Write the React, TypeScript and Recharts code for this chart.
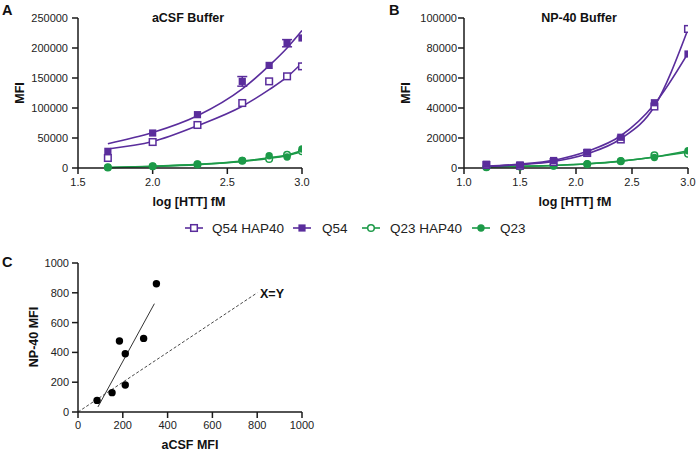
import React from "react";
import {
  ComposedChart,
  Line,
  Scatter,
  ErrorBar,
  XAxis,
  YAxis,
} from "recharts";

const FONT = '"Liberation Sans", Arial, sans-serif';
const PURPLE = "#5a2d9c";
const GREEN = "#1c9a48";
const INK = "#1a1a1a";

// Panel A - aCSF buffer
const aX = [1.7, 2.0, 2.3, 2.6, 2.78, 2.9, 3.0];
const aQ54Hap40 = [16700, 43300, 71700, 108300, 144400, 152800, 169400];
const aQ54 = [27800, 58300, 88900, 144400, 171000, 208000, 216700];
const aQ54Err = [0, 0, 0, 8000, 0, 6000, 0];
const aQ23Hap40 = [1000, 3000, 6000, 12000, 15000, 22000, 27800];
const aQ23 = [1000, 3000, 6500, 12500, 20500, 18300, 31700];
const aQ54Hap40Fit = [31700, 44000, 70500, 103000, 130500, 151700, 175000];
const aQ54Fit = [40500, 59000, 87000, 131700, 170500, 200000, 229000];
const aQ23Hap40Fit = [600, 2600, 5600, 10800, 16000, 20500, 27500];
const aQ23Fit = [800, 2900, 6000, 11500, 17000, 21500, 29000];
const aXTicks = [1.5, 2.0, 2.5, 3.0];
const aYTicks = [0, 50000, 100000, 150000, 200000, 250000];

// Panel B - NP-40 buffer
const bX = [1.2, 1.5, 1.8, 2.1, 2.4, 2.7, 3.0];
const bQ54Hap40 = [2000, 1500, 4000, 10000, 19000, 41000, 92700];
const bQ54 = [2500, 2000, 5000, 10500, 20500, 43500, 76000];
const bQ23Hap40 = [500, 1000, 1500, 2500, 4500, 8500, 9500];
const bQ23 = [500, 1000, 1500, 2800, 4800, 7000, 11500];
const bQ54Hap40Fit = [1000, 2200, 4300, 9500, 19500, 41000, 92500];
const bQ54Fit = [1200, 2600, 5100, 11100, 21500, 42500, 76500];
const bQ23Hap40Fit = [700, 1100, 1700, 2700, 4500, 7300, 10500];
const bQ23Fit = [700, 1100, 1700, 2800, 4600, 7300, 11500];
const bXTicks = [1.0, 1.5, 2.0, 2.5, 3.0];
const bYTicks = [0, 20000, 40000, 60000, 80000, 100000];

// Panel C - aCSF vs NP-40
const cAcsf = [85, 152, 185, 211, 211, 293, 350];
const cNp40 = [78, 130, 477, 391, 181, 494, 861];
const cFitX = [89, 341];
const cFitY = [34, 727];
const cIdentity = [0, 800];
const cTicks = [0, 200, 400, 600, 800, 1000];

const pts = (xs: number[], ys: number[], errs?: number[]) =>
  xs.map((x, i) => ({ x, y: ys[i], err: errs ? errs[i] : 0 }));

const tickStyle = { fontSize: 11, fill: "#222", fontFamily: FONT };

const openSquare = (color: string) => (p: any) => (
  <rect x={p.cx - 3.3} y={p.cy - 3.3} width={6.6} height={6.6} fill="#fff" stroke={color} strokeWidth={1.5} />
);
const filledSquare = (color: string) => (p: any) => (
  <rect x={p.cx - 3.6} y={p.cy - 3.6} width={7.2} height={7.2} fill={color} />
);
const openCircle = (color: string) => (p: any) => (
  <circle cx={p.cx} cy={p.cy} r={3.3} fill="#fff" stroke={color} strokeWidth={1.5} />
);
const filledCircle = (color: string) => (p: any) => (
  <circle cx={p.cx} cy={p.cy} r={3.7} fill={color} />
);

interface CurveProps {
  xs: number[];
  q54Hap40: number[];
  q54: number[];
  q54Err?: number[];
  q23Hap40: number[];
  q23: number[];
  fits: number[][];
  xDomain: [number, number];
  xTicks: number[];
  yDomain: [number, number];
  yTicks: number[];
  width: number;
  margin: { top: number; right: number; bottom: number; left: number };
  tickGap: number;
}

function CurvePanel(p: CurveProps) {
  const [fQ54H, fQ54, fQ23H, fQ23] = p.fits;
  return (
    <ComposedChart width={p.width} height={215} margin={p.margin}>
      <XAxis
        type="number"
        dataKey="x"
        domain={p.xDomain}
        ticks={p.xTicks}
        tickFormatter={(v: number) => v.toFixed(1)}
        allowDataOverflow
        height={47}
        stroke={INK}
        strokeWidth={1.5}
        tickSize={6}
        tickMargin={4}
        tick={tickStyle}
      />
      <YAxis
        type="number"
        dataKey="y"
        domain={p.yDomain}
        ticks={p.yTicks}
        width={60}
        stroke={INK}
        strokeWidth={1.5}
        tickSize={6}
        tickMargin={p.tickGap}
        tick={tickStyle}
      />
      <Line data={pts(p.xs, fQ23H)} dataKey="y" type="monotone" stroke={GREEN} strokeWidth={1.6} dot={false} activeDot={false} isAnimationActive={false} />
      <Line data={pts(p.xs, fQ23)} dataKey="y" type="monotone" stroke={GREEN} strokeWidth={1.6} dot={false} activeDot={false} isAnimationActive={false} />
      <Scatter data={pts(p.xs, p.q23Hap40)} dataKey="y" shape={openCircle(GREEN)} isAnimationActive={false} />
      <Scatter data={pts(p.xs, p.q23)} dataKey="y" shape={filledCircle(GREEN)} isAnimationActive={false} />
      <Line data={pts(p.xs, fQ54H)} dataKey="y" type="monotone" stroke={PURPLE} strokeWidth={1.6} dot={false} activeDot={false} isAnimationActive={false} />
      <Line data={pts(p.xs, fQ54)} dataKey="y" type="monotone" stroke={PURPLE} strokeWidth={1.6} dot={false} activeDot={false} isAnimationActive={false} />
      <Scatter data={pts(p.xs, p.q54Hap40)} dataKey="y" shape={openSquare(PURPLE)} isAnimationActive={false} />
      <Scatter data={pts(p.xs, p.q54, p.q54Err)} dataKey="y" shape={filledSquare(PURPLE)} isAnimationActive={false}>
        {p.q54Err && <ErrorBar dataKey="err" direction="y" width={5} stroke={PURPLE} strokeWidth={1.5} />}
      </Scatter>
    </ComposedChart>
  );
}

function ScatterPanel() {
  return (
    <ComposedChart width={340} height={207} margin={{ top: 18, right: 38, bottom: 0, left: 18 }}>
      <XAxis
        type="number"
        dataKey="x"
        domain={[0, 1000]}
        ticks={cTicks}
        height={40}
        stroke={INK}
        strokeWidth={1.5}
        tickSize={6}
        tickMargin={3}
        tick={tickStyle}
      />
      <YAxis
        type="number"
        dataKey="y"
        domain={[0, 1000]}
        ticks={cTicks}
        width={60}
        stroke={INK}
        strokeWidth={1.5}
        tickSize={6}
        tickMargin={3}
        tick={tickStyle}
      />
      <Line data={pts(cIdentity, cIdentity)} dataKey="y" type="linear" stroke="#333" strokeWidth={0.9} strokeDasharray="3 2" dot={false} activeDot={false} isAnimationActive={false} />
      <Line data={pts(cFitX, cFitY)} dataKey="y" type="linear" stroke="#333" strokeWidth={1} dot={false} activeDot={false} isAnimationActive={false} />
      <Scatter data={pts(cAcsf, cNp40)} dataKey="y" shape={filledCircle("#000")} isAnimationActive={false} />
    </ComposedChart>
  );
}

const legendItems = [
  { name: "Q54 HAP40", color: PURPLE, kind: "openSquare", x0: 185, tx: 212 },
  { name: "Q54", color: PURPLE, kind: "filledSquare", x0: 293, tx: 322 },
  { name: "Q23 HAP40", color: GREEN, kind: "openCircle", x0: 362, tx: 390 },
  { name: "Q23", color: GREEN, kind: "filledCircle", x0: 472, tx: 500 },
];

function LegendMarker({ kind, color, cx, cy }: { kind: string; color: string; cx: number; cy: number }) {
  if (kind === "openSquare") return openSquare(color)({ cx, cy });
  if (kind === "filledSquare") return filledSquare(color)({ cx, cy });
  if (kind === "openCircle") return openCircle(color)({ cx, cy });
  return filledCircle(color)({ cx, cy });
}

export default function App() {
  const bold = { fontFamily: FONT, fontWeight: 700, fontSize: 12.5, fill: "#111" } as const;
  const panelLabel = { fontFamily: FONT, fontWeight: 700, fontSize: 14.5, fill: "#111" } as const;
  return (
    <div style={{ position: "absolute", left: 0, top: 0, width: 698, height: 452, background: "#fff" }}>
      <div style={{ position: "absolute", left: 0, top: 0 }}>
        <CurvePanel
          xs={aX}
          q54Hap40={aQ54Hap40}
          q54={aQ54}
          q54Err={aQ54Err}
          q23Hap40={aQ23Hap40}
          q23={aQ23}
          fits={[aQ54Hap40Fit, aQ54Fit, aQ23Hap40Fit, aQ23Fit]}
          xDomain={[1.5, 3.0]}
          xTicks={aXTicks}
          yDomain={[0, 250000]}
          yTicks={aYTicks}
          width={340}
          margin={{ top: 18, right: 38, bottom: 0, left: 18 }}
          tickGap={4}
        />
      </div>
      <div style={{ position: "absolute", left: 350, top: 0 }}>
        <CurvePanel
          xs={bX}
          q54Hap40={bQ54Hap40}
          q54={bQ54}
          q23Hap40={bQ23Hap40}
          q23={bQ23}
          fits={[bQ54Hap40Fit, bQ54Fit, bQ23Hap40Fit, bQ23Fit]}
          xDomain={[1.0, 3.0]}
          xTicks={bXTicks}
          yDomain={[0, 100000]}
          yTicks={bYTicks}
          width={348}
          margin={{ top: 18, right: 10, bottom: 0, left: 54 }}
          tickGap={1}
        />
      </div>
      <div style={{ position: "absolute", left: 0, top: 245 }}>
        <ScatterPanel />
      </div>
      <svg width={698} height={452} style={{ position: "absolute", left: 0, top: 0, pointerEvents: "none" }}>
        <text x={2} y={15} style={panelLabel}>A</text>
        <text x={188} y={21.5} textAnchor="middle" style={bold}>aCSF Buffer</text>
        <text x={24} y={93} textAnchor="middle" transform="rotate(-90 24 93)" style={bold}>MFI</text>
        <text x={189} y={206} textAnchor="middle" style={bold}>log [HTT] fM</text>

        <text x={389} y={15} style={panelLabel}>B</text>
        <text x={579} y={21.5} textAnchor="middle" style={bold}>NP-40 Buffer</text>
        <text x={410} y={93} textAnchor="middle" transform="rotate(-90 410 93)" style={bold}>MFI</text>
        <text x={575} y={206} textAnchor="middle" style={bold}>log [HTT] fM</text>

        {legendItems.map((it) => (
          <g key={it.name}>
            <line x1={it.x0} x2={it.x0 + 18} y1={228} y2={228} stroke={it.color} strokeWidth={1.6} />
            <LegendMarker kind={it.kind} color={it.color} cx={it.x0 + 9} cy={228} />
            <text x={it.tx} y={233} style={{ fontFamily: FONT, fontSize: 13.5, fill: "#222" }}>{it.name}</text>
          </g>
        ))}

        <text x={2} y={266.5} style={panelLabel}>C</text>
        <text x={38} y={337} textAnchor="middle" transform="rotate(-90 38 337)" style={bold}>NP-40 MFI</text>
        <text x={190} y={449} textAnchor="middle" style={bold}>aCSF MFI</text>
        <text x={260} y={298} style={bold}>X=Y</text>
      </svg>
    </div>
  );
}
